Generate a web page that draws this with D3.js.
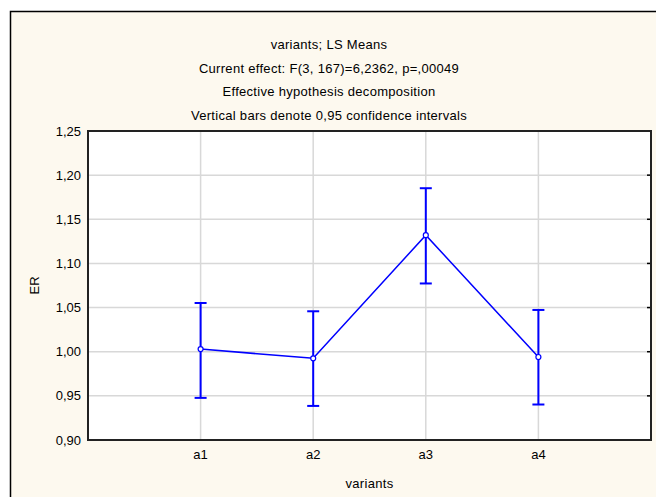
<!DOCTYPE html>
<meta charset="utf-8">
<script src="https://cdn.jsdelivr.net/npm/d3@7"></script>
<style>
body { margin: 0; background: #fff; }
text { font-family: "Liberation Sans", Arial, sans-serif; fill: #000; }
</style>
<body>
</body>
<script>
// data
var variants = ["a1", "a2", "a3", "a4"];
var means = [1.003, 0.9925, 1.132, 0.994];
var upper = [1.0552, 1.0458, 1.1852, 1.0473];
var lower = [0.9477, 0.9386, 1.0773, 0.9402];
var yTicks = [0.90, 0.95, 1.00, 1.05, 1.10, 1.15, 1.20, 1.25];
var titles = ["variants; LS Means",
  "Current effect: F(3, 167)=6,2362, p=,00049",
  "Effective hypothesis decomposition",
  "Vertical bars denote 0,95 confidence intervals"];

var W = 656, H = 497;
var plot = {left: 88, top: 131, right: 651, bottom: 440};

var svg = d3.select("body").append("svg")
    .attr("width", W)
    .attr("height", H);

// outer panel
svg.append("rect")
    .attr("x", 10.5).attr("y", 11.5)
    .attr("width", W).attr("height", H)
    .attr("fill", "#fdf9ef")
    .attr("stroke", "#000")
    .attr("stroke-width", 1.5);

var x = d3.scaleLinear()
    .domain([0, variants.length + 1])
    .range([plot.left, plot.right]);

var y = d3.scaleLinear()
    .domain([0.90, 1.25])
    .range([plot.bottom, plot.top]);

var fmt = function(d) { return d3.format(".2f")(d).replace(".", ","); };

svg.append("rect")
    .attr("x", plot.left).attr("y", plot.top)
    .attr("width", plot.right - plot.left)
    .attr("height", plot.bottom - plot.top)
    .attr("fill", "#fff");

// grid
svg.append("g").selectAll("line")
  .data(yTicks.slice(1, -1))
  .enter().append("line")
    .attr("x1", plot.left).attr("x2", plot.right)
    .attr("y1", function(d) { return y(d); })
    .attr("y2", function(d) { return y(d); })
    .attr("stroke", "#d8d8d8")
    .attr("stroke-width", 1.5);

svg.append("g").selectAll("line")
  .data(variants)
  .enter().append("line")
    .attr("x1", function(d, i) { return x(i + 1); })
    .attr("x2", function(d, i) { return x(i + 1); })
    .attr("y1", plot.top).attr("y2", plot.bottom)
    .attr("stroke", "#d8d8d8")
    .attr("stroke-width", 1.5);

// small inward ticks on the right edge
svg.append("g").selectAll("line")
  .data(yTicks.slice(1, -1))
  .enter().append("line")
    .attr("x1", plot.right - 4).attr("x2", plot.right)
    .attr("y1", function(d) { return y(d); })
    .attr("y2", function(d) { return y(d); })
    .attr("stroke", "#000")
    .attr("stroke-width", 1.5);

// frame
svg.append("rect")
    .attr("x", plot.left).attr("y", plot.top)
    .attr("width", plot.right - plot.left)
    .attr("height", plot.bottom - plot.top)
    .attr("fill", "none")
    .attr("stroke", "#222")
    .attr("stroke-width", 2);

// y tick labels
svg.append("g").selectAll("text")
  .data(yTicks)
  .enter().append("text")
    .attr("x", 81)
    .attr("y", function(d) { return y(d) + 4.5; })
    .attr("text-anchor", "end")
    .attr("font-size", "13px")
    .text(fmt);

// x tick labels
svg.append("g").selectAll("text")
  .data(variants)
  .enter().append("text")
    .attr("x", function(d, i) { return x(i + 1); })
    .attr("y", 459)
    .attr("text-anchor", "middle")
    .attr("font-size", "13px")
    .text(function(d) { return d; });

svg.append("text")
    .attr("x", (plot.left + plot.right) / 2)
    .attr("y", 488)
    .attr("text-anchor", "middle")
    .attr("font-size", "13px")
    .attr("letter-spacing", "0.3px")
    .text("variants");

svg.append("text")
    .attr("transform", "translate(39," + ((plot.top + plot.bottom) / 2) + ") rotate(-90)")
    .attr("text-anchor", "middle")
    .attr("font-size", "13px")
    .text("ER");

// titles
svg.append("g").selectAll("text")
  .data(titles)
  .enter().append("text")
    .attr("x", 329)
    .attr("y", function(d, i) { return 49 + i * 23.5; })
    .attr("text-anchor", "middle")
    .attr("font-size", "13px")
    .attr("letter-spacing", "0.3px")
    .text(function(d) { return d; });

// error bars
var blue = "#0000ff";
var eb = svg.append("g").attr("stroke", blue).attr("stroke-width", 2);
variants.forEach(function(v, i) {
  var cx = x(i + 1);
  eb.append("line").attr("x1", cx).attr("x2", cx)
    .attr("y1", y(lower[i])).attr("y2", y(upper[i]));
  eb.append("line").attr("x1", cx - 6).attr("x2", cx + 6)
    .attr("y1", y(lower[i])).attr("y2", y(lower[i]));
  eb.append("line").attr("x1", cx - 6).attr("x2", cx + 6)
    .attr("y1", y(upper[i])).attr("y2", y(upper[i]));
});

// mean line
var line = d3.line()
    .x(function(d, i) { return x(i + 1); })
    .y(function(d) { return y(d); });

svg.append("path")
    .datum(means)
    .attr("d", line)
    .attr("fill", "none")
    .attr("stroke", blue)
    .attr("stroke-width", 1.5);

svg.append("g").selectAll("circle")
  .data(means)
  .enter().append("circle")
    .attr("cx", function(d, i) { return x(i + 1); })
    .attr("cy", function(d) { return y(d); })
    .attr("r", 2.5)
    .attr("fill", "#fff")
    .attr("stroke", blue)
    .attr("stroke-width", 1.2);
</script>
